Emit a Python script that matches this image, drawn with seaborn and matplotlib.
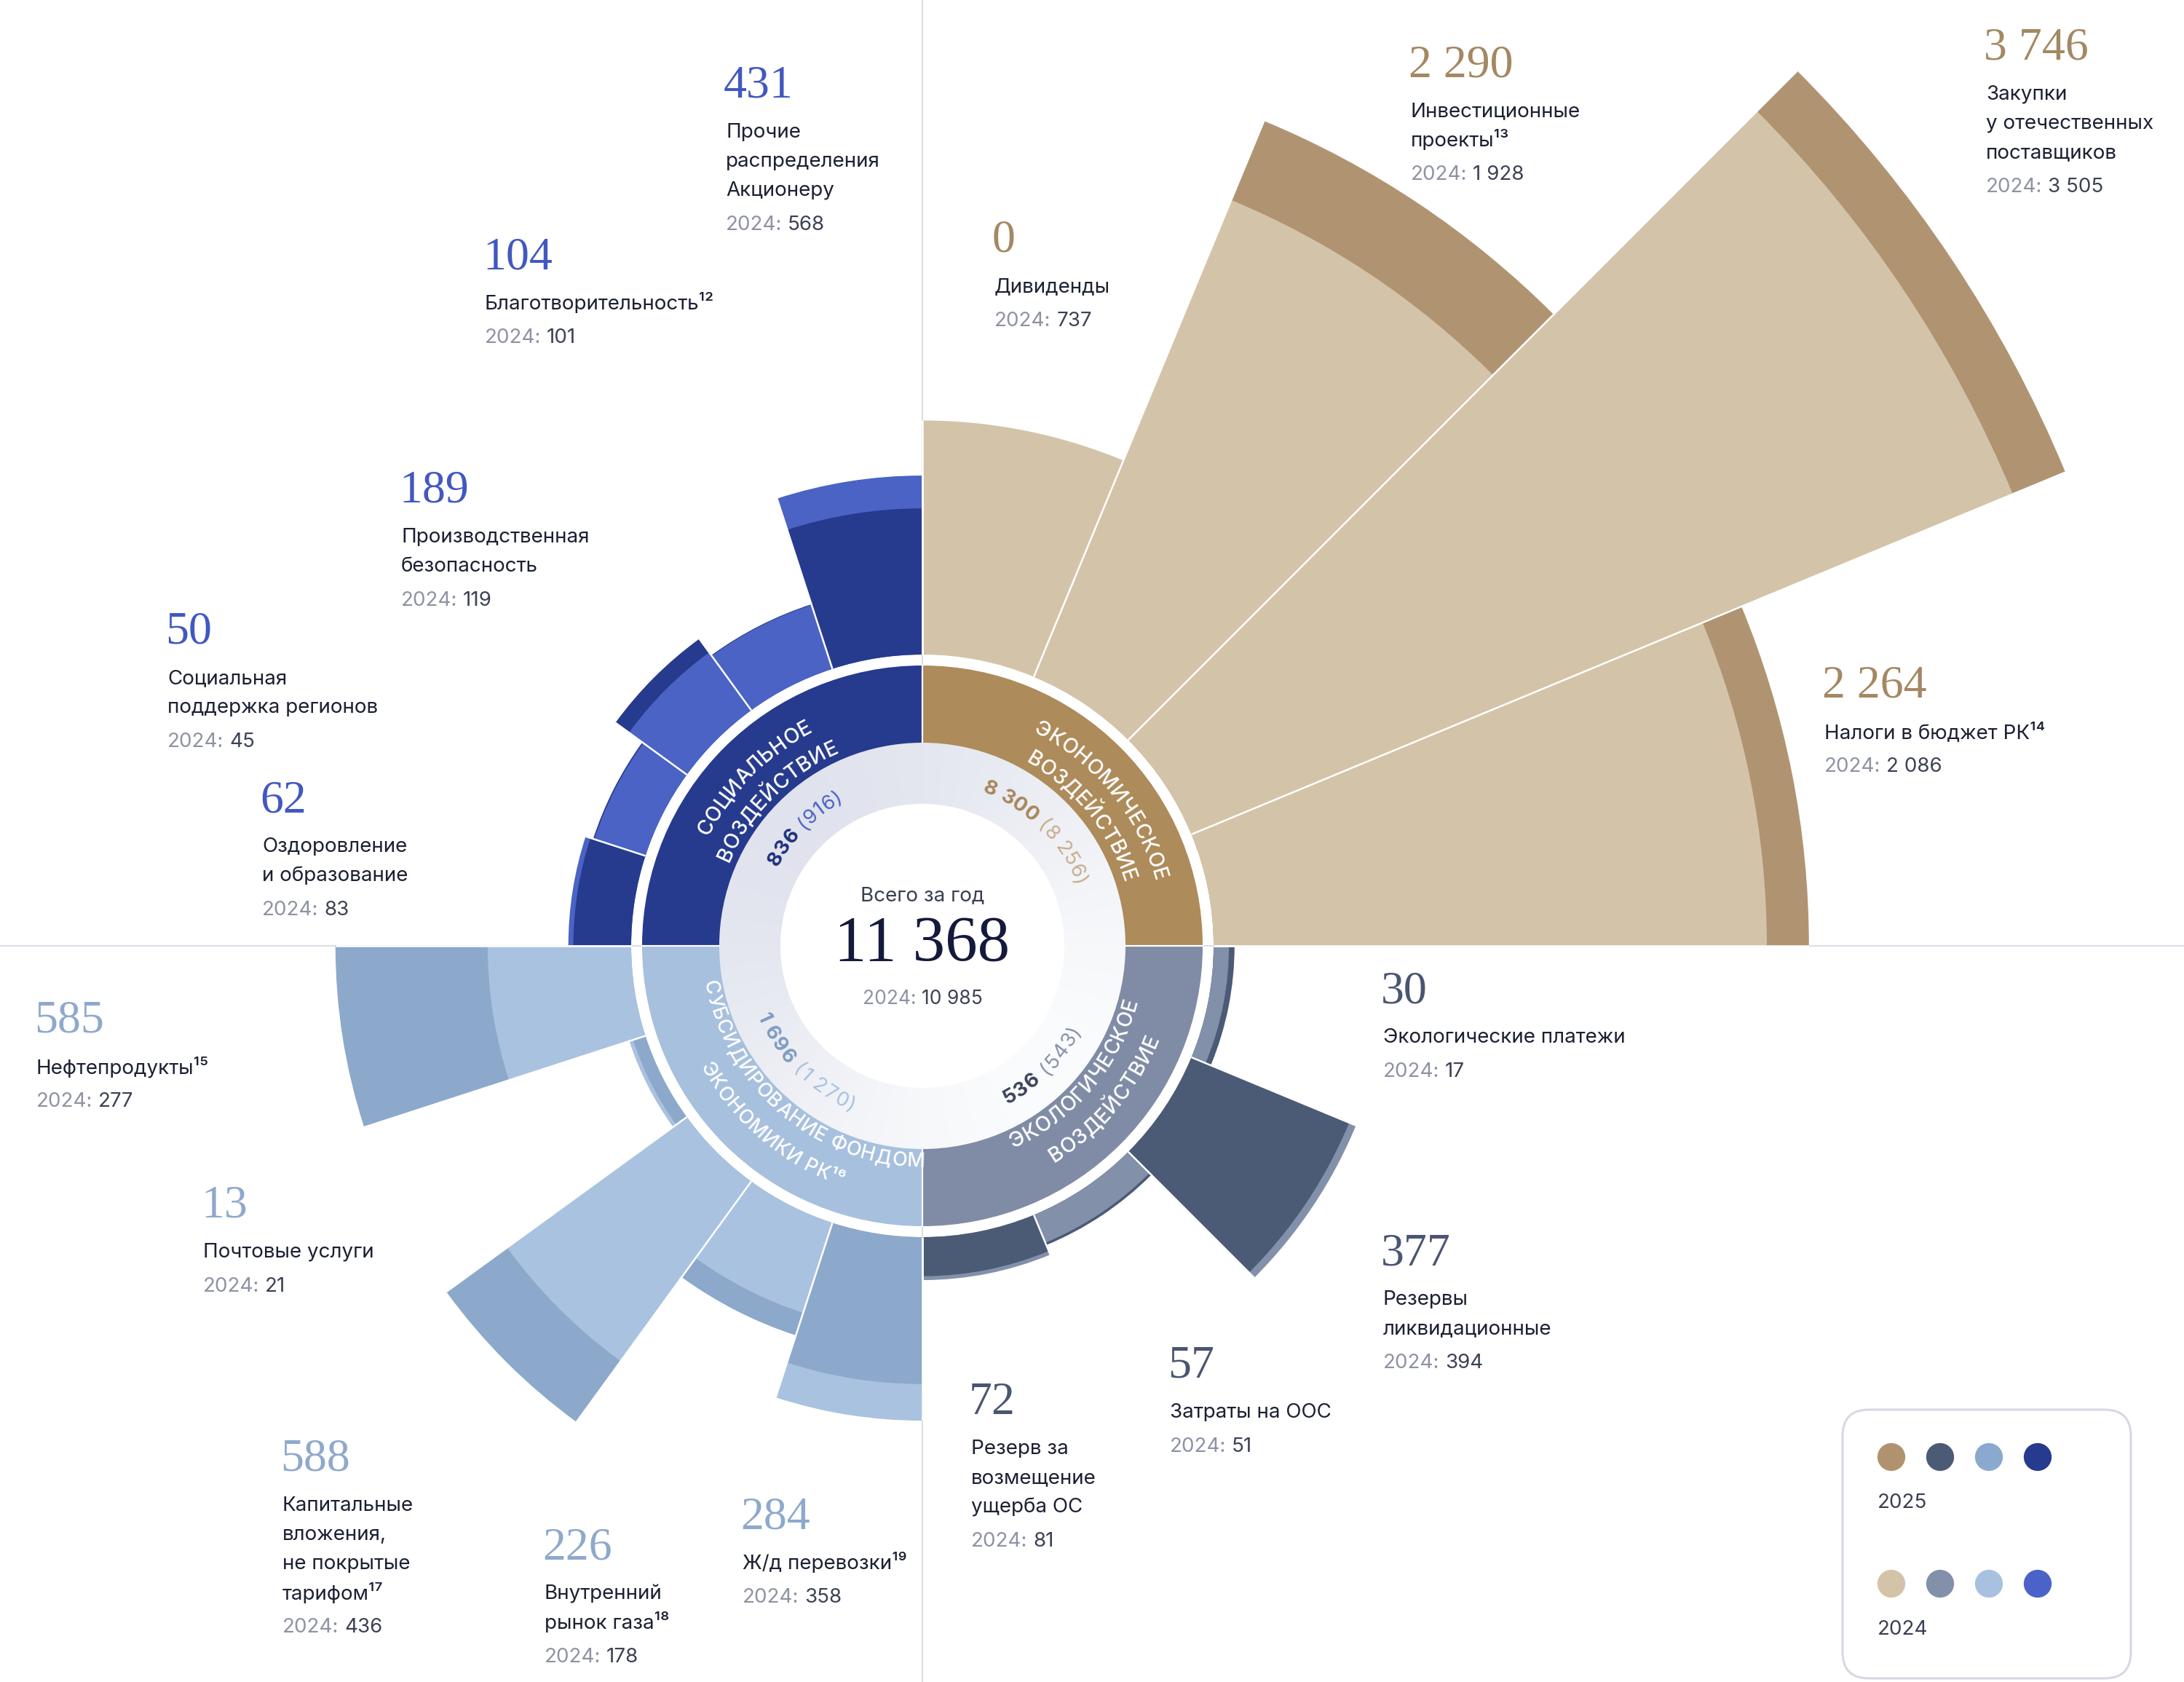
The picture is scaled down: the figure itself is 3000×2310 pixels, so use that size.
import numpy as np
import pandas as pd
import matplotlib
matplotlib.use('Agg')
import matplotlib.pyplot as plt
import seaborn as sns
from matplotlib.font_manager import FontProperties
from matplotlib.patches import FancyBboxPatch

# ---------------- data ----------------
total_2025 = 11368
total_2024 = 10985

group_keys = ['econ', 'social', 'subsidy', 'eco']
group_titles = {
    'econ': ['ЭКОНОМИЧЕСКОЕ', 'ВОЗДЕЙСТВИЕ'],
    'social': ['СОЦИАЛЬНОЕ', 'ВОЗДЕЙСТВИЕ'],
    'subsidy': ['СУБСИДИРОВАНИЕ ФОНДОМ', 'ЭКОНОМИКИ РК¹⁶'],
    'eco': ['ЭКОЛОГИЧЕСКОЕ', 'ВОЗДЕЙСТВИЕ'],
}
group_2025 = [8300, 836, 1696, 536]
group_2024 = [8256, 916, 1270, 543]

econ_names = ['Дивиденды', 'Инвестиционные\nпроекты¹³',
              'Закупки\nу отечественных\nпоставщиков', 'Налоги в бюджет РК¹⁴']
econ_2025 = [0, 2290, 3746, 2264]
econ_2024 = [737, 1928, 3505, 2086]

social_names = ['Прочие\nраспределения\nАкционеру', 'Благотворительность¹²',
                'Производственная\nбезопасность', 'Социальная\nподдержка регионов',
                'Оздоровление\nи образование']
social_2025 = [431, 104, 189, 50, 62]
social_2024 = [568, 101, 119, 45, 83]

subsidy_names = ['Нефтепродукты¹⁵', 'Почтовые услуги',
                 'Капитальные\nвложения,\nне покрытые\nтарифом¹⁷',
                 'Внутренний\nрынок газа¹⁸', 'Ж/д перевозки¹⁹']
subsidy_2025 = [585, 13, 588, 226, 284]
subsidy_2024 = [277, 21, 436, 178, 358]

eco_names = ['Экологические платежи', 'Резервы\nликвидационные', 'Затраты на ООС',
             'Резерв за\nвозмещение\nущерба ОС']
eco_2025 = [30, 377, 57, 72]
eco_2024 = [17, 394, 51, 81]

items = {
    'econ': (econ_names, econ_2025, econ_2024),
    'social': (social_names, social_2025, social_2024),
    'subsidy': (subsidy_names, subsidy_2025, subsidy_2024),
    'eco': (eco_names, eco_2025, eco_2024),
}

# ---------------- styles / layout ----------------
colors = {
    #          2025       2024       ring       label      val bold   val light
    'econ':    ('#B09472', '#D3C4A9', '#AD8B5A', '#A48862', '#A8875C', '#C7AE8A'),
    'social':  ('#263A8E', '#4A63C4', '#263A8E', '#4258C0', '#1F2F7E', '#4A63C4'),
    'subsidy': ('#8CA9CB', '#A9C2E0', '#A7C0DE', '#8EA9CC', '#7F9CC2', '#A9C1E0'),
    'eco':     ('#4B5A75', '#8390AA', '#808CA6', '#4A5571', '#394358', '#8690A8'),
}
legend_2025 = ['#B0936E', '#4B5A75', '#8BA9CF', '#263A8E']
legend_2024 = ['#D3C3A8', '#8290AA', '#A8C1E0', '#4B62C9']

quad_start = {'econ': 90, 'social': 90, 'subsidy': 180, 'eco': 360}
quad_dir = {'econ': -1, 'social': 1, 'subsidy': 1, 'eco': -1}
quad_mid = {'econ': 45, 'social': 135, 'subsidy': 225, 'eco': 315}
# radial scale per quadrant (pixels): r = offset + slope * value
quad_scale = {'econ': (482, 0.325), 'social': (459, 0.329),
              'subsidy': (409, 0.679), 'eco': (411, 0.593)}
caption_angle = {'econ': 39, 'social': 135, 'subsidy': 230, 'eco': 320}
value_angle = {'econ': 45, 'social': 135, 'subsidy': 225, 'eco': 315}
outward = {'econ': True, 'social': True, 'subsidy': False, 'eco': False}

label_pos = {
    'econ': [(1366, 331), (1938, 90), (2728, 67), (2506, 943)],
    'social': [(997, 119), (666, 354), (551, 675), (230, 869), (360, 1100)],
    'subsidy': [(50, 1403), (279, 1657), (388, 2005), (748, 2126), (1020, 2084)],
    'eco': [(1900, 1362), (1900, 1722), (1607, 1877), (1334, 1927)],
}

W, H = 3000, 2310
CX, CY = 1267, 1299
RMAX = 1800
R_DISK, R_RING_IN, R_RING_OUT, BASE = 195, 279, 385, 400

SANS = ['Inter', 'DejaVu Sans']
SERIF = ['Liberation Serif', 'DejaVu Serif']
TXT = '#1C2033'
GRAY = '#8E93A3'
DARK = '#3C4154'

sns.set_theme(style='white')
plt.rcParams['font.family'] = SANS


def fmt(v):
    return f'{v:,}'.replace(',', ' ')


fig = plt.figure(figsize=(W / 100, H / 100), dpi=100)
renderer = fig.canvas.get_renderer()


def text_w(s, fp):
    return renderer.get_text_width_height_descent(s, fp, ismath=False)[0]


def adv(ch, fp):
    return text_w('H' + ch + 'H', fp) - text_w('HH', fp)


ax = fig.add_axes([(CX - RMAX) / W, (H - CY - RMAX) / H, 2 * RMAX / W, 2 * RMAX / H],
                  projection='polar')
ax.set_ylim(0, RMAX)
ax.set_theta_zero_location('E')
ax.set_thetagrids([0, 90, 180, 270], labels=[''] * 4)
ax.set_yticks([])
ax.xaxis.grid(True, color='#DCDFE7', lw=1.6)
ax.spines['polar'].set_visible(False)
ax.set_facecolor('none')
ax.set_axisbelow(True)

# gradient ring behind the category ring
grad = sns.blend_palette(['#E0E3ED', '#FAFBFC'], 101)
n_seg = 180
for j in range(n_seg):
    th = 2 * np.pi * (j + 0.5) / n_seg
    t = (1 - np.cos(th - np.deg2rad(135))) / 2
    c = grad[int(round(t * 100))]
    ax.bar(th, R_RING_IN - R_DISK, width=2 * np.pi / n_seg, bottom=R_DISK,
           color=c, edgecolor=c, linewidth=0.6, zorder=2)
ax.bar(0, R_DISK, width=2 * np.pi, bottom=0, color='white', linewidth=0, zorder=2)

# category ring
for key in group_keys:
    ax.bar(np.deg2rad(quad_mid[key]), R_RING_OUT - R_RING_IN, width=np.pi / 2,
           bottom=R_RING_IN, color=colors[key][2], linewidth=0, zorder=2)
for b in [0, 90, 180, 270]:
    ax.plot([np.deg2rad(b)] * 2, [R_RING_IN, R_RING_OUT], color='white', lw=1.6, zorder=3)

# petals: the larger of the two years behind, the smaller on top
for key in group_keys:
    names, v25s, v24s = items[key]
    n = len(names)
    step = 90 / n
    a, k = quad_scale[key]
    c25, c24 = colors[key][0], colors[key][1]

    def rad(v):
        return a + k * v if v > 0 else BASE

    outer = []
    for i in range(n):
        th = np.deg2rad(quad_start[key] + quad_dir[key] * (i + 0.5) * step)
        layers = sorted([(rad(v25s[i]), c25), (rad(v24s[i]), c24)], reverse=True)
        for r, c in layers:
            if r > BASE:
                ax.bar(th, r - BASE, width=np.deg2rad(step), bottom=BASE,
                       color=c, linewidth=0, zorder=2)
        outer.append(layers[0][0])
    for j in range(n + 1):
        thb = np.deg2rad(quad_start[key] + quad_dir[key] * j * step)
        nb = [outer[m] for m in (j - 1, j) if 0 <= m < n]
        ax.plot([thb, thb], [BASE, max(nb)], color='white', lw=1.8, zorder=3,
                solid_capstyle='butt')


def arc_text(parts, r_mid, theta_deg, out, size, track=0.0):
    chars = []
    for s, color, weight in parts:
        fp = FontProperties(family=SANS, size=size, weight=weight)
        for ch in s:
            chars.append((ch, color, fp, adv(ch, fp) + track))
    total = sum(c[3] for c in chars)
    cap = 0.73 * size * 100 / 72
    r_base = r_mid - cap / 2 if out else r_mid + cap / 2
    th0 = np.deg2rad(theta_deg)
    pos = 0.0
    for ch, color, fp, w in chars:
        off = (pos + w / 2 - total / 2) / r_mid
        th = th0 - off if out else th0 + off
        rot = np.rad2deg(th) - 90 if out else np.rad2deg(th) + 90
        if ch != ' ':
            ax.text(th, r_base, ch, rotation=rot, rotation_mode='anchor', ha='center',
                    va='baseline', color=color, fontproperties=fp, zorder=5)
        pos += w


for q, key in enumerate(group_keys):
    l1, l2 = group_titles[key]
    size = 19.5 if key == 'subsidy' else 20.5
    if outward[key]:
        arc_text([(l1, 'white', 'medium')], 341, caption_angle[key], True, size, 1.0)
        arc_text([(l2, 'white', 'medium')], 300, caption_angle[key], True, size, 1.0)
    else:
        arc_text([(l1, 'white', 'medium')], 294, caption_angle[key], False, size, 0.5)
        arc_text([(l2, 'white', 'medium')], 338, caption_angle[key], False, size, 0.5)
    arc_text([(fmt(group_2025[q]), colors[key][4], 'bold'),
              (' (' + fmt(group_2024[q]) + ')', colors[key][5], 'normal')],
             237, value_angle[key], outward[key], 20, 1.0)

# ---------------- text overlay ----------------
tax = fig.add_axes([0, 0, 1, 1])
tax.axis('off')


def two_tone(x, y, a, b, size, ca, cb, ha='left'):
    fp = FontProperties(family=SANS, size=size)
    wa = text_w(a, fp)
    gap = 0.28 * size * 100 / 72
    wb = text_w(b, fp)
    x0 = x - (wa + gap + wb) / 2 if ha == 'center' else x
    tax.text(x0, y, a, fontproperties=fp, color=ca, ha='left', va='center')
    tax.text(x0 + wa + gap, y, b, fontproperties=fp, color=cb, ha='left', va='center')


for key in group_keys:
    names, v25s, v24s = items[key]
    for i, name in enumerate(names):
        x, y = label_pos[key][i]
        tax.text(x - 3, y, fmt(v25s[i]), family=SERIF, fontsize=46,
                 color=colors[key][3], ha='left', va='center')
        yy = y + 63
        for ln in name.split('\n'):
            tax.text(x, yy, ln, family=SANS, fontsize=20, color=TXT, ha='left', va='center')
            yy += 40
        two_tone(x, yy - 40 + 47, '2024:', fmt(v24s[i]), 20, GRAY, DARK)

# centre
tax.text(CX, 1230, 'Всего за год', family=SANS, fontsize=20, color='#3A3F52',
         ha='center', va='center')
tax.text(CX, 1297, fmt(total_2025), family=SERIF, fontsize=64, color='#141A3C',
         ha='center', va='center')
two_tone(CX, 1372, '2024:', fmt(total_2024), 19, GRAY, DARK, ha='center')

# legend
bx0, by0, bx1, by1 = 2531, 1936, 2927, 2305
rr = 36
tax.add_patch(FancyBboxPatch((bx0 + rr, by0 + rr), bx1 - bx0 - 2 * rr, by1 - by0 - 2 * rr,
                             boxstyle=f'round,pad={rr}', facecolor='white',
                             edgecolor='#D6D9E3', lw=2.2))
dot_x = [2598, 2665, 2732, 2799]
legend_df = pd.DataFrame({
    'x': dot_x + dot_x,
    'y': [2001] * 4 + [2175] * 4,
    'key': [f'2025-{i}' for i in range(4)] + [f'2024-{i}' for i in range(4)],
})
palette = dict(zip(legend_df['key'], legend_2025 + legend_2024))
sns.scatterplot(data=legend_df, x='x', y='y', hue='key', palette=palette, s=760,
                linewidth=0, legend=False, ax=tax, zorder=5)
tax.text(2579, 2064, '2025', family=SANS, fontsize=20, color='#3A3F52', ha='left', va='center')
tax.text(2579, 2238, '2024', family=SANS, fontsize=20, color='#3A3F52', ha='left', va='center')

tax.set_xlim(0, W)
tax.set_ylim(H, 0)
tax.set_xlabel('')
tax.set_ylabel('')

fig.savefig('out.png', dpi=100, facecolor='white')
